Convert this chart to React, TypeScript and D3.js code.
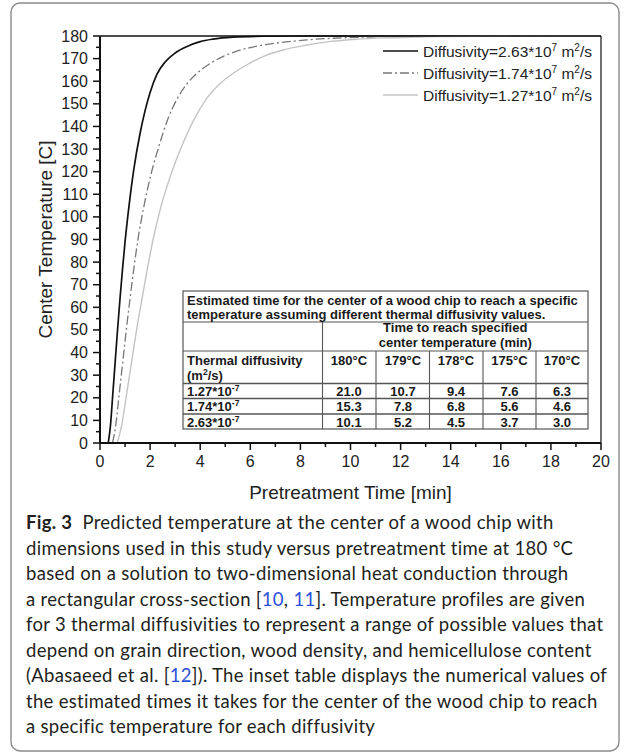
import React from "react";
import * as d3 from "d3";

// ---- data ----
const timeTicks = [0, 2, 4, 6, 8, 10, 12, 14, 16, 18, 20];
const tempTicks = [0, 10, 20, 30, 40, 50, 60, 70, 80, 90, 100, 110, 120, 130, 140, 150, 160, 170, 180];

const fastTime = [0.33, 0.42, 0.5, 0.6, 0.7, 0.8, 0.9, 1.0, 1.16, 1.35, 1.6, 1.8, 2.0, 2.27, 2.6, 3.0, 3.5, 4.0, 4.5, 5.3, 6.5, 8, 20];
const fastTemp = [0, 8, 20, 35, 50, 64, 77, 89, 105, 121, 137, 147, 155, 163, 168.5, 172.5, 175.5, 177.5, 178.6, 179.5, 179.9, 180, 180];

const midTime = [0.5, 0.63, 0.75, 0.9, 1.05, 1.2, 1.35, 1.5, 1.74, 2.04, 2.4, 2.7, 3.07, 3.45, 3.87, 4.35, 4.92, 5.55, 6.27, 7.2, 8.27, 9.3, 10.5, 12, 14, 20];
const midTemp = [0, 8, 20, 35, 50, 64, 77, 89, 104, 119, 133, 143, 152, 158.5, 163.5, 167.5, 171, 173.6, 175.5, 177.1, 178.3, 179, 179.5, 179.85, 180, 180];

const slowTime = [0.69, 0.87, 1.04, 1.25, 1.46, 1.68, 1.89, 2.1, 2.42, 2.84, 3.33, 3.75, 4.27, 4.75, 5.33, 5.9, 6.53, 7.3, 8.27, 9.2, 10.27, 11.5, 13, 15, 17, 20];
const slowTemp = [0, 8, 20, 35, 50, 64, 77, 89, 104, 119, 133, 143, 152.5, 158.5, 163.6, 167.5, 171, 173.8, 176, 177.6, 178.6, 179.2, 179.6, 179.9, 180, 180];

const legendLabels = ["2.63", "1.74", "1.27"];

const tableTitle = [
  "Estimated time for the center of a wood chip to reach a specific",
  "temperature assuming different thermal diffusivity values.",
];
const tableHeader = ["Time to reach specified", "center temperature (min)"];
const tableTemps = ["180°C", "179°C", "178°C", "175°C", "170°C"];
const tableDiffusivities = ["1.27*10", "1.74*10", "2.63*10"];
const tableValues = [
  ["21.0", "10.7", "9.4", "7.6", "6.3"],
  ["15.3", "7.8", "6.8", "5.6", "4.6"],
  ["10.1", "5.2", "4.5", "3.7", "3.0"],
];

// caption lines: segments [text, style] where style: b=bold, l=link, n=normal
const captionLines: [string, string][][] = [
  [["Fig. 3", "b"], ["  Predicted temperature at the center of a wood chip with", "n"]],
  [["dimensions used in this study versus pretreatment time at 180 °C", "n"]],
  [["based on a solution to two-dimensional heat conduction through", "n"]],
  [["a rectangular cross-section [", "n"], ["10", "l"], [", ", "n"], ["11", "l"], ["]. Temperature profiles are given", "n"]],
  [["for 3 thermal diffusivities to represent a range of possible values that", "n"]],
  [["depend on grain direction, wood density, and hemicellulose content", "n"]],
  [["(Abasaeed et al. [", "n"], ["12", "l"], ["]). The inset table displays the numerical values of", "n"]],
  [["the estimated times it takes for the center of the wood chip to reach", "n"]],
  [["a specific temperature for each diffusivity", "n"]],
];

const W = 629;
const H = 752;
const x = d3.scaleLinear().domain([0, 20]).range([100, 601]);
const y = d3.scaleLinear().domain([0, 180]).range([443, 36]);

const series = [
  { t: fastTime, v: fastTemp, stroke: "#111", width: 1.7, dash: undefined as string | undefined },
  { t: midTime, v: midTemp, stroke: "#777", width: 1.3, dash: "9,3,2,3" },
  { t: slowTime, v: slowTemp, stroke: "#c4c4c4", width: 1.4, dash: undefined },
];

const line = d3
  .line<[number, number]>()
  .x((d) => x(d[0]))
  .y((d) => y(d[1]))
  .curve(d3.curveMonotoneX);

const ARIAL = "'Liberation Sans', Arial, sans-serif";

export default function App() {
  const minorX = d3.range(0, 20.01, 1).filter((v) => v % 2 !== 0);
  const minorY = d3.range(5, 180, 10);

  // table layout
  const tL = 183, tR = 588, tT = 291, tB = 429;
  const rowY = [322, 351, 383.5, 398.5, 414];
  const colX = [322.5, 376, 429.5, 483, 536];
  const colCenters = [349, 403, 456, 509.5, 562];
  const dataBase = [395.5, 411, 426.5];

  return (
    <svg
      width={W}
      height={H}
      style={{ position: "absolute", left: 0, top: 0, background: "#fff" }}
      fontFamily={ARIAL}
    >
      <rect x={0} y={0} width={W} height={H} fill="#fff" />
      <rect x={11} y={3} width={608} height={748} rx={9} fill="none" stroke="#8a8a8a" strokeWidth={1.4} />

      {/* curves */}
      {series.map((s, i) => (
        <path
          key={i}
          d={line(s.t.map((t, j) => [t, s.v[j]] as [number, number])) || ""}
          fill="none"
          stroke={s.stroke}
          strokeWidth={s.width}
          strokeDasharray={s.dash}
        />
      ))}

      {/* frame */}
      <line x1={x(0)} x2={x(20)} y1={y(180)} y2={y(180)} stroke="#111" strokeWidth={1.6} />
      <line x1={x(20)} x2={x(20)} y1={y(180)} y2={y(0)} stroke="#111" strokeWidth={1.2} />

      {/* x axis */}
      <line x1={x(0) - 1} x2={x(20)} y1={y(0)} y2={y(0)} stroke="#111" strokeWidth={2} />
      {timeTicks.map((t) => (
        <g key={"xt" + t}>
          <line x1={x(t)} x2={x(t)} y1={y(0)} y2={y(0) + 7} stroke="#111" strokeWidth={1.5} />
          <text x={x(t)} y={467} fontSize={16} textAnchor="middle" fill="#222">
            {t}
          </text>
        </g>
      ))}
      {minorX.map((t) => (
        <line key={"xm" + t} x1={x(t)} x2={x(t)} y1={y(0)} y2={y(0) + 4} stroke="#111" strokeWidth={1.5} />
      ))}
      <text x={(x(0) + x(20)) / 2} y={499} fontSize={19} textAnchor="middle" fill="#222">
        Pretreatment Time [min]
      </text>

      {/* y axis */}
      <line x1={x(0)} x2={x(0)} y1={y(0) + 1} y2={y(180)} stroke="#111" strokeWidth={2} />
      {tempTicks.map((v) => (
        <g key={"yt" + v}>
          <line x1={x(0) - 7} x2={x(0)} y1={y(v)} y2={y(v)} stroke="#111" strokeWidth={1.5} />
          <text x={88} y={y(v) + 5.5} fontSize={16} textAnchor="end" fill="#222">
            {v}
          </text>
        </g>
      ))}
      {minorY.map((v) => (
        <line key={"ym" + v} x1={x(0) - 4} x2={x(0)} y1={y(v)} y2={y(v)} stroke="#111" strokeWidth={1.5} />
      ))}
      <text
        transform={`translate(52, ${(y(0) + y(180)) / 2}) rotate(-90)`}
        fontSize={19}
        textAnchor="middle"
        fill="#222"
      >
        Center Temperature [C]
      </text>

      {/* legend */}
      {legendLabels.map((lab, i) => {
        const ly = 51 + i * 22;
        const s = series[i];
        return (
          <g key={"lg" + i}>
            <line x1={383} x2={418} y1={ly} y2={ly} stroke={s.stroke} strokeWidth={s.width} strokeDasharray={s.dash} />
            <text x={423} y={ly + 5.5} fontSize={15.5} fill="#222">
              {"Diffusivity=" + lab + "*10"}
              <tspan dy={-6} fontSize={10}>7</tspan>
              <tspan dy={6}>{" m"}</tspan>
              <tspan dy={-6} fontSize={10}>2</tspan>
              <tspan dy={6}>/s</tspan>
            </text>
          </g>
        );
      })}

      {/* table */}
      <g fontWeight="bold" fontSize={13} fill="#1a1a1a">
        <rect x={tL} y={tT} width={tR - tL} height={tB - tT} fill="#fff" stroke="#555" strokeWidth={1.2} />
        {rowY.map((ry, i) => (
          <line key={"tr" + i} x1={tL} x2={tR} y1={ry} y2={ry} stroke="#555" strokeWidth={i >= 2 ? 1.4 : 1.1} />
        ))}
        <line x1={colX[0]} x2={colX[0]} y1={rowY[0]} y2={tB} stroke="#555" strokeWidth={1.1} />
        {colX.slice(1).map((cx, i) => (
          <line key={"tc" + i} x1={cx} x2={cx} y1={rowY[1]} y2={tB} stroke="#555" strokeWidth={1.1} />
        ))}
        {tableTitle.map((tt, i) => (
          <text key={"tt" + i} x={187} y={304.5 + i * 14}>
            {tt}
          </text>
        ))}
        {tableHeader.map((tt, i) => (
          <text key={"th" + i} x={(colX[0] + tR) / 2} y={332 + i * 14.5} textAnchor="middle">
            {tt}
          </text>
        ))}
        <text x={187} y={364.5}>Thermal diffusivity</text>
        <text x={187} y={379.5}>
          (m<tspan dy={-5} fontSize={8.5}>2</tspan>
          <tspan dy={5}>/s)</tspan>
        </text>
        {tableTemps.map((tp, i) => (
          <text key={"tp" + i} x={colCenters[i]} y={364.5} textAnchor="middle">
            {tp}
          </text>
        ))}
        {tableDiffusivities.map((dv, r) => (
          <g key={"dr" + r}>
            <text x={187} y={dataBase[r]}>
              {dv}
              <tspan dy={-5} fontSize={8.5}>-7</tspan>
            </text>
            {tableValues[r].map((val, c) => (
              <text key={"dv" + c} x={colCenters[c]} y={dataBase[r]} textAnchor="middle">
                {val}
              </text>
            ))}
          </g>
        ))}
      </g>

      {/* caption */}
      <g fontFamily="Lato, 'Open Sans', sans-serif" fontSize={18.5} letterSpacing={0.3} fill="#231f20">
        {captionLines.map((segs, i) => (
          <text key={"cap" + i} x={26} y={529 + i * 25.5} xmlSpace="preserve" style={{ whiteSpace: "pre" }}>
            {segs.map(([txt, st], j) => (
              <tspan
                key={j}
                fontWeight={st === "b" ? "bold" : "normal"}
                fill={st === "l" ? "#2b4fd8" : "#231f20"}
              >
                {txt}
              </tspan>
            ))}
          </text>
        ))}
      </g>
    </svg>
  );
}
